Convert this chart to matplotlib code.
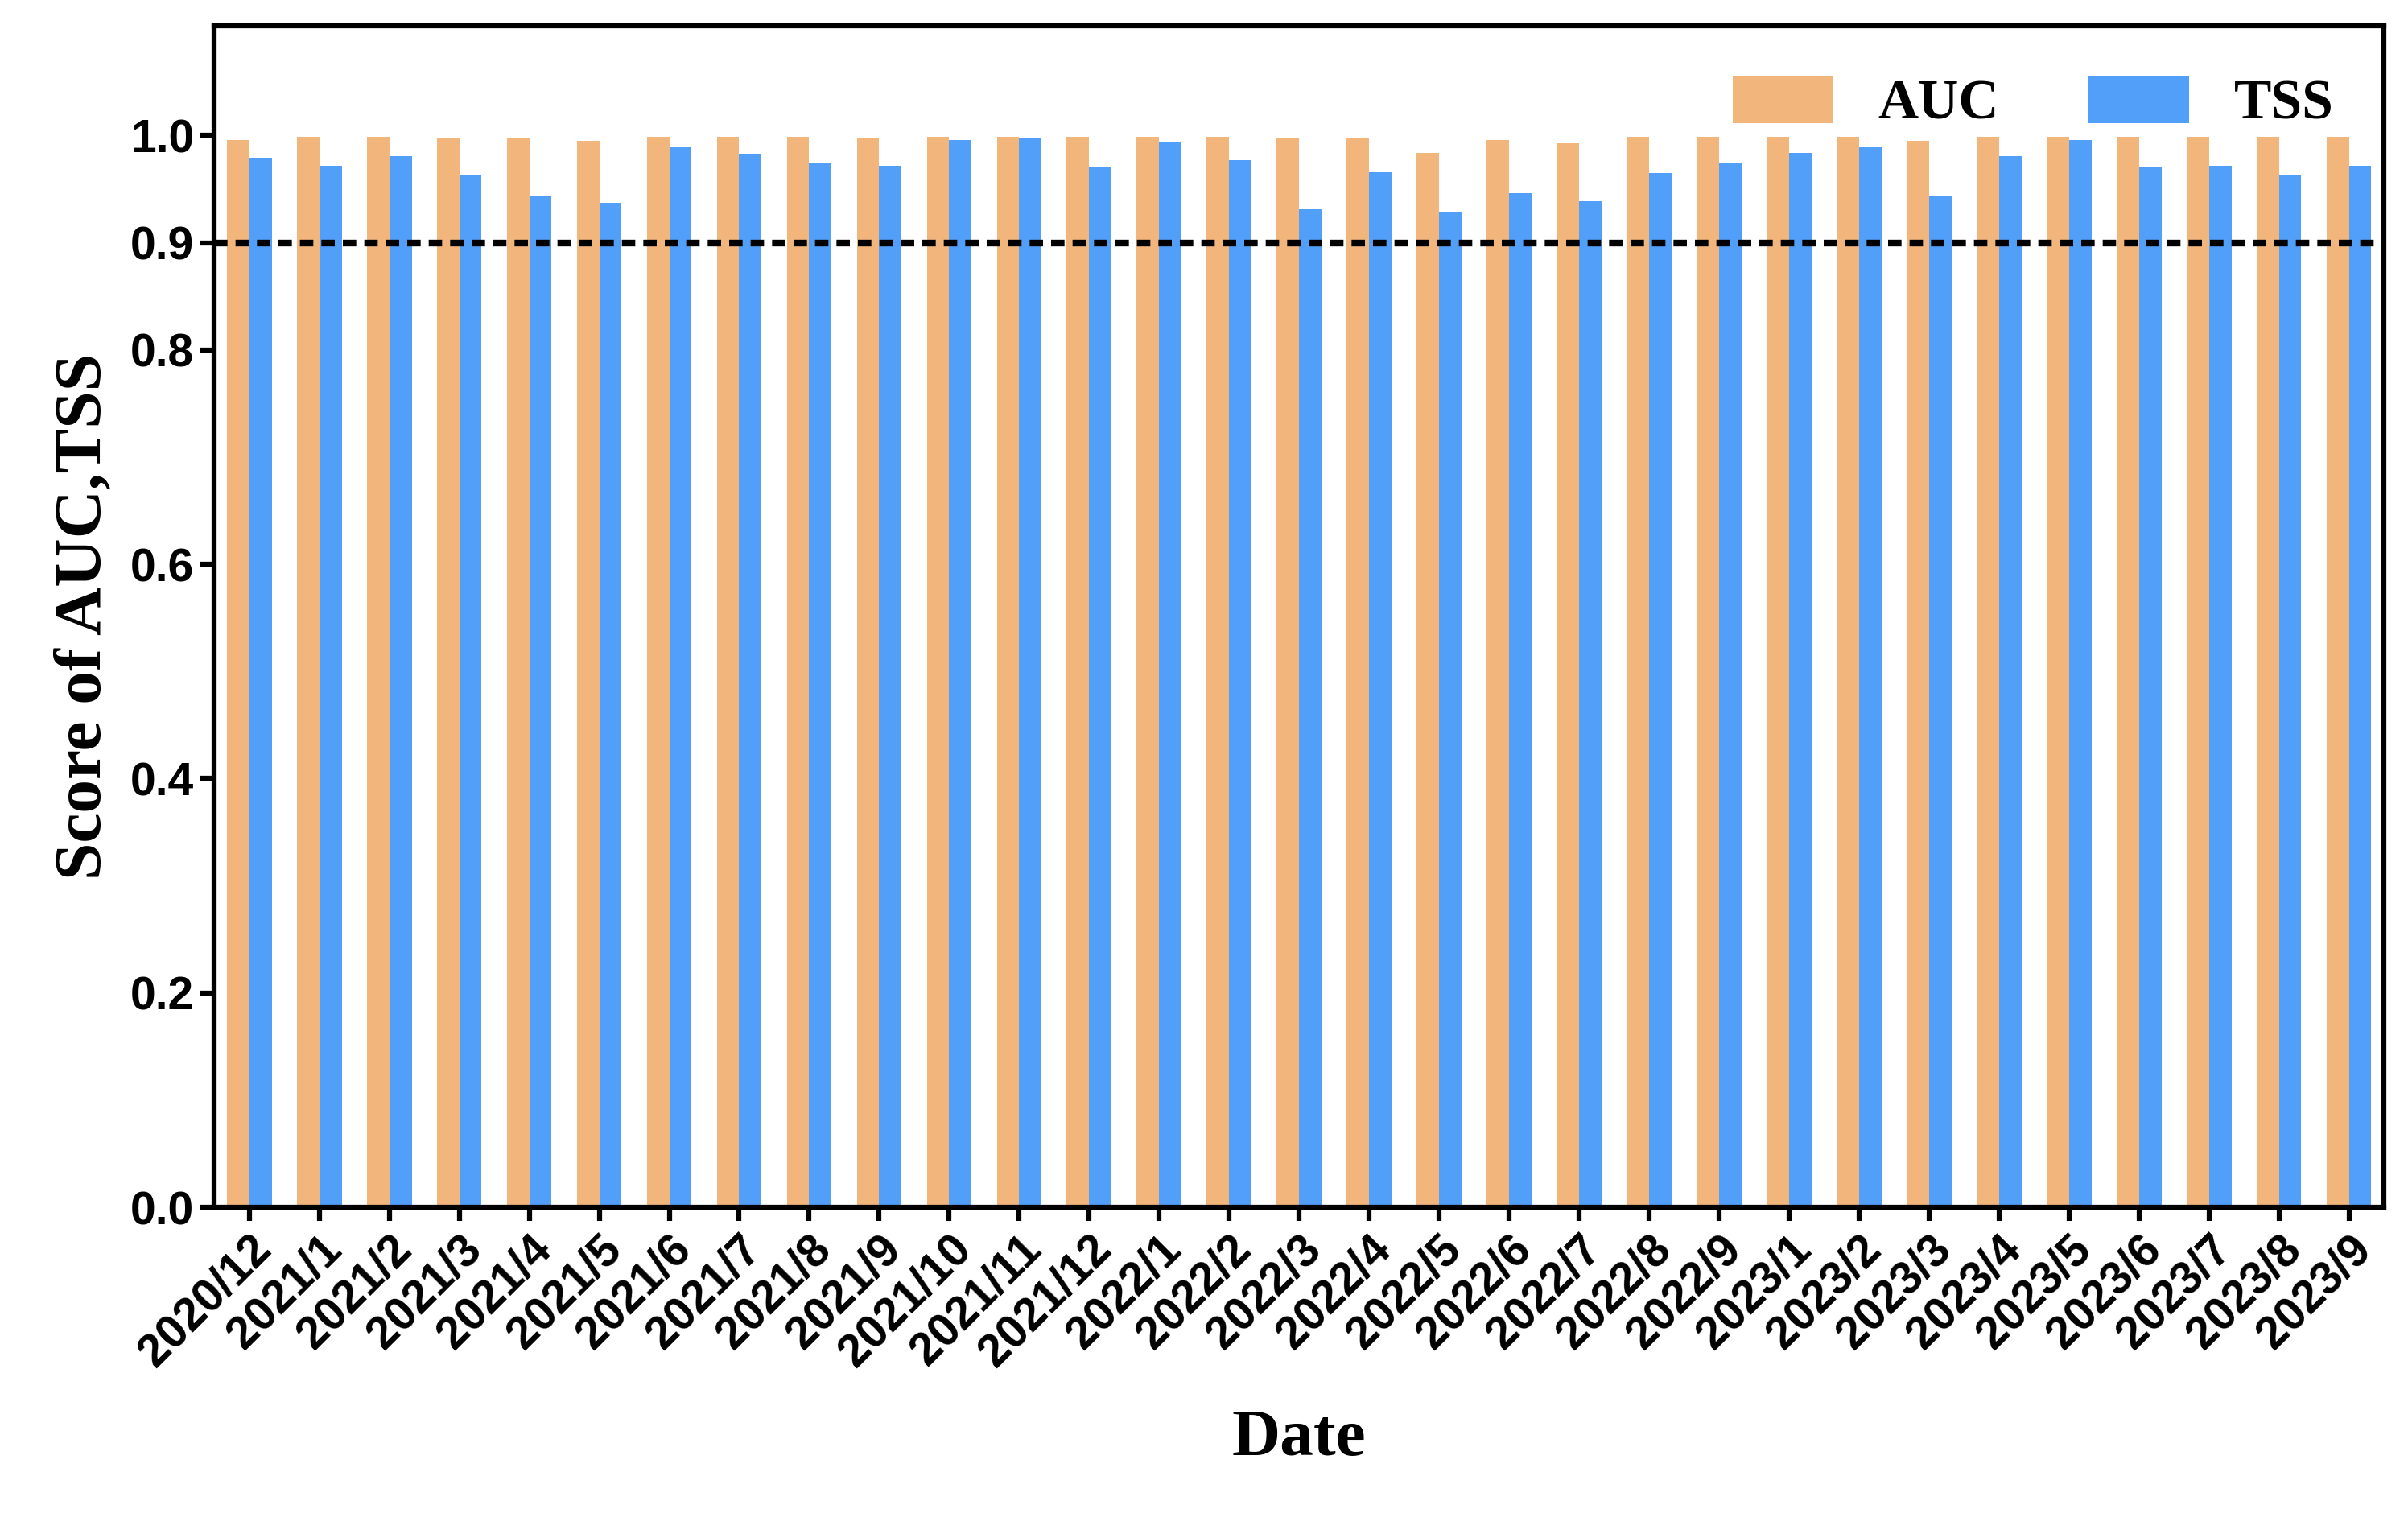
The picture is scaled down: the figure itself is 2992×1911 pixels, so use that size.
import numpy as np
import matplotlib.pyplot as plt

dates = ["2020/12"] + [f"2021/{m}" for m in range(1, 13)] + \
        [f"2022/{m}" for m in range(1, 10)] + [f"2023/{m}" for m in range(1, 10)]
auc = [0.996, 0.999, 0.999, 0.997, 0.997, 0.995, 0.999, 0.999, 0.999, 0.997,
       0.999, 0.999, 0.999, 0.999, 0.999, 0.997, 0.997, 0.984, 0.996, 0.993,
       0.999, 0.999, 0.999, 0.999, 0.995, 0.999, 0.999, 0.999, 0.999, 0.999, 0.999]
tss = [0.979, 0.972, 0.981, 0.963, 0.944, 0.937, 0.989, 0.983, 0.975, 0.972,
       0.996, 0.997, 0.970, 0.994, 0.977, 0.931, 0.966, 0.928, 0.946, 0.939,
       0.965, 0.975, 0.984, 0.989, 0.943, 0.981, 0.996, 0.970, 0.972, 0.963, 0.972]
threshold = 0.9

serif = 'Liberation Serif'
sans = 'Liberation Sans'

fig = plt.figure(figsize=(29.92, 19.11), dpi=100)
ax = fig.add_axes([0.089, 0.215, 0.901, 0.768])

x = np.arange(len(dates))
w = 0.32
ax.bar(x - w / 2, auc, w, color='#f2b57c', label='AUC')
ax.bar(x + w / 2, tss, w, color='#529ffa', label='TSS')
ax.axhline(threshold, color='black', linestyle=(0, (2.0, 1.2)), linewidth=6)

ax.set_xlim(-0.5, len(dates) - 0.5)
ax.set_ylim(0, 1.102)
ax.set_yticks([0.0, 0.2, 0.4, 0.6, 0.8, 0.9, 1.0])
ax.set_xticks(x)
ax.set_xticklabels(dates, rotation=45, ha='right', rotation_mode='anchor')
for lab in ax.get_xticklabels() + ax.get_yticklabels():
    lab.set_fontfamily(sans)
    lab.set_fontweight('bold')
    lab.set_fontsize(41)

for s in ax.spines.values():
    s.set_linewidth(4.5)
ax.tick_params(width=4.5, length=12, pad=6)

ax.set_xlabel('Date', fontfamily=serif, fontweight='bold', fontsize=60, labelpad=30)
ax.set_ylabel('Score of AUC,TSS', fontfamily=serif, fontweight='bold', fontsize=60, labelpad=14)

ax.legend(loc='upper right', ncol=2, frameon=False, handlelength=1.8, handleheight=0.9,
          columnspacing=1.6, handletextpad=0.8,
          prop={'family': serif, 'weight': 'bold', 'size': 50},
          bbox_to_anchor=(1.0, 1.0))

fig.savefig('out.png', dpi=100)
